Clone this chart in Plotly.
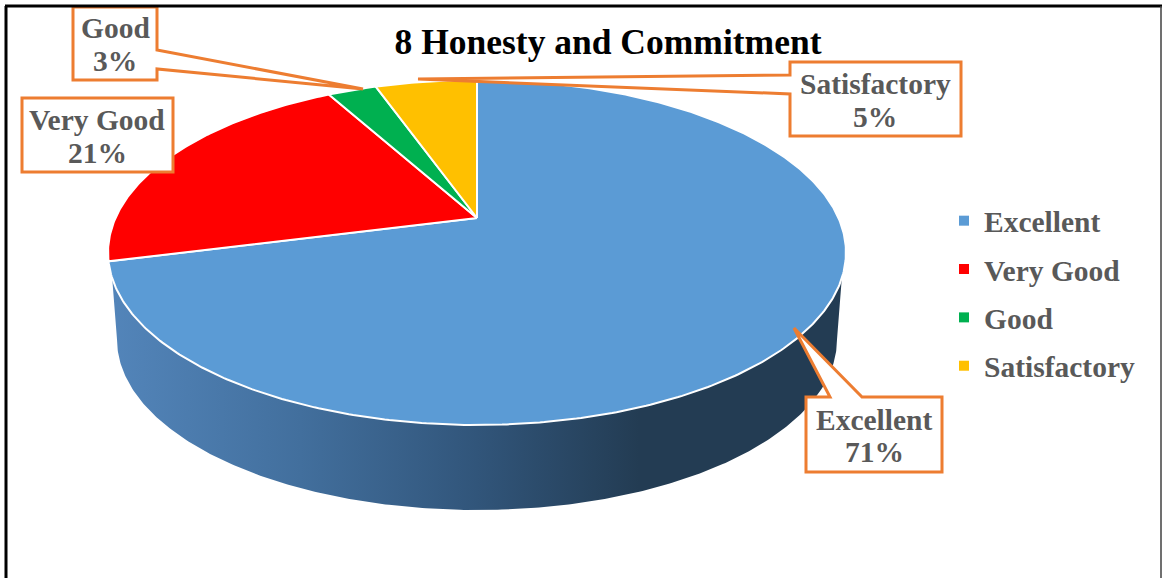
import numpy as np
import plotly.graph_objects as go

# ---- data ----
categories = ["Excellent", "Very Good", "Good", "Satisfactory"]
values = [71, 21, 2.6, 5.4]
colors = ["#5B9BD5", "#FF0000", "#00B050", "#FFC000"]
title_text = "8 Honesty and Commitment"

FONT = "Liberation Serif"
GREY = "#595959"
ORANGE = "#ED7D31"

# ---- geometry of the tilted disc (projective view of a circle) ----
CX, APEX_Y, R, K, B = 477.0, 218.0, 361.5, 0.2, -122.0


def project(theta):
    u, v = np.sin(theta), np.cos(theta)
    d = 1 + K * v
    return CX + R * u / d, (B * v + APEX_Y) / d


fig = go.Figure()

# side wall, drawn from the disc rim and a lower ellipse
LOW_CY, LOW_RX, LOW_RY, WALL_TOP = 339.5, 360.0, 170.5, 277.0
rim_x, rim_y = project(np.linspace(np.pi * 0.5, np.pi * 1.5, 300))
keep = rim_y >= WALL_TOP
t = np.linspace(np.pi, 0, 300)
wall_x = np.concatenate([rim_x[keep], CX + LOW_RX * np.cos(t)])
wall_y = np.concatenate([rim_y[keep], LOW_CY + LOW_RY * np.sin(t)])
fig.add_trace(go.Scatter(
    x=wall_x, y=wall_y, mode="lines", fill="toself",
    line=dict(width=0), showlegend=False, hoverinfo="skip",
    fillgradient=dict(
        type="horizontal", start=109, stop=846,
        colorscale=[[0, "#5385BA"], [0.26, "#426F9D"], [0.5, "#31557A"],
                    [0.72, "#233C53"], [1, "#233C53"]],
    ),
))

# slices, top face
total = sum(values)
cum = 0.0
for name, val, col in zip(categories, values, colors):
    a0, a1 = 2 * np.pi * cum / total, 2 * np.pi * (cum + val) / total
    cum += val
    n = max(20, int(val * 6))
    ex, ey = project(np.linspace(a0, a1, n))
    fig.add_trace(go.Scatter(
        x=np.r_[CX, ex, CX], y=np.r_[APEX_Y, ey, APEX_Y],
        mode="lines", fill="toself", fillcolor=col,
        line=dict(color="white", width=2),
        name=name, showlegend=False, hoverinfo="name",
    ))

# legend entries
for name, col in zip(categories, colors):
    fig.add_trace(go.Scatter(
        x=[None], y=[None], mode="markers", name=name, legendgroup=name,
        marker=dict(symbol="square", size=10, color=col),
    ))


# callouts: box with a pointer wedge
def callout(pts):
    return "M" + " L".join(f"{x},{y}" for x, y in pts) + " Z"


callouts = [
    # Excellent
    ([(806, 397), (830, 397), (794, 328), (862, 397), (942, 397), (942, 472), (806, 472)], 874, 420, 452, 0),
    # Very Good
    ([(22, 98), (173, 98), (173, 172), (22, 172)], 97, 120, 153, 1),
    # Good
    ([(73, 7), (157, 7), (157, 50), (363, 89), (157, 69), (157, 80), (73, 80)], 115, 28, 61, 2),
    # Satisfactory
    ([(790, 62), (961, 62), (961, 136), (790, 136), (790, 94), (418, 79), (790, 75)], 875, 84, 117, 3),
]
shapes = []
annotations = []
for pts, tx, y1, y2, i in callouts:
    shapes.append(dict(type="path", path=callout(pts), xref="x", yref="y",
                       fillcolor="white", line=dict(color=ORANGE, width=3), layer="above"))
    for txt, ty in ((categories[i], y1), (f"{round(values[i])}%", y2)):
        annotations.append(dict(
            x=tx, y=ty, xref="x", yref="y", showarrow=False, align="center",
            text=f"<b>{txt}</b>",
            font=dict(family=FONT, size=29.5, color=GREY),
        ))

# frame
frame = [((5, 6), (1162, 6), "black", 3), ((6, 6), (6, 578), "black", 3),
         ((1161, 6), (1161, 578), "#404040", 1.5)]
for (x0, y0), (x1, y1), c, w in frame:
    shapes.append(dict(type="line", x0=x0, y0=y0, x1=x1, y1=y1, xref="x", yref="y",
                       line=dict(color=c, width=w), layer="above"))

fig.update_layout(
    width=1162, height=578, autosize=False,
    margin=dict(l=0, r=0, t=0, b=0),
    paper_bgcolor="white", plot_bgcolor="white",
    title=dict(text=f"<b>{title_text}</b>", x=608 / 1162, xanchor="center",
               y=1 - 42 / 578, yanchor="middle",
               font=dict(family=FONT, size=35.5, color="black")),
    xaxis=dict(range=[0, 1162], visible=False, fixedrange=True),
    yaxis=dict(range=[578, 0], visible=False, fixedrange=True),
    legend=dict(x=944 / 1162, xanchor="left", y=1 - 195 / 578, yanchor="top",
                font=dict(family=FONT, size=29.5, color=GREY, weight="bold"),
                tracegroupgap=7, bgcolor="rgba(0,0,0,0)", itemclick=False, itemdoubleclick=False),
    shapes=shapes, annotations=annotations,
)

fig.write_html("out.html", config={"displayModeBar": False},
               post_script="document.body.style.margin='0';")
